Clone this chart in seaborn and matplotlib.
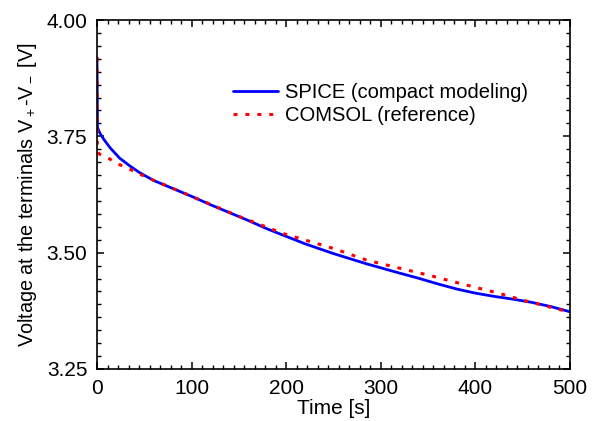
import matplotlib
matplotlib.use('Agg')
import matplotlib.pyplot as plt
from matplotlib.ticker import AutoMinorLocator, FormatStrFormatter, MultipleLocator
import seaborn as sns

# SPICE (compact modeling) curve
spice_time = [0, 0.5, 3, 7, 14, 24, 35, 45, 60, 80, 100, 120, 140, 160, 180,
              200, 220, 250, 285, 320, 340, 360, 380, 400, 420, 440, 460,
              480, 500]
spice_volt = [3.919, 3.769, 3.757, 3.744, 3.725, 3.703, 3.686, 3.672, 3.655,
              3.638, 3.621, 3.603, 3.586, 3.569, 3.551, 3.535, 3.519, 3.498,
              3.476, 3.456, 3.445, 3.433, 3.422, 3.413, 3.406, 3.400, 3.393,
              3.384, 3.373]

# COMSOL (reference) curve
comsol_time = [0, 0.3, 2.4, 12, 23, 35, 45, 57, 100, 150, 197, 250, 285,
               317, 352, 376, 401, 426, 450, 475, 500]
comsol_volt = [3.920, 3.720, 3.712, 3.703, 3.690, 3.679, 3.669, 3.658, 3.621,
               3.578, 3.541, 3.509, 3.484, 3.468, 3.451, 3.438, 3.425, 3.412,
               3.398, 3.385, 3.372]

labels = ['SPICE (compact modeling)', 'COMSOL (reference)']

TICK_SIZE = 15
XLABEL_SIZE = 15
YLABEL_SIZE = 14.3
LEGEND_SIZE = 14.5

sns.set_theme(style='white')
plt.rcParams['font.family'] = ['Liberation Sans', 'DejaVu Sans']
plt.rcParams['mathtext.fontset'] = 'custom'
plt.rcParams['mathtext.rm'] = 'Liberation Sans'
plt.rcParams['mathtext.it'] = 'Liberation Sans'
plt.rcParams['axes.edgecolor'] = 'black'
plt.rcParams['axes.linewidth'] = 1.2
plt.rcParams['text.color'] = 'black'
plt.rcParams['axes.labelcolor'] = 'black'

fig = plt.figure(figsize=(5.95, 4.21), dpi=100)
ax = fig.add_axes([97 / 595, 1 - 369 / 421, (570 - 97) / 595, (369 - 20) / 421])

sns.lineplot(x=spice_time, y=spice_volt, ax=ax, color='#0000ff', linewidth=2,
             estimator=None, sort=False, label=labels[0])
sns.lineplot(x=comsol_time, y=comsol_volt, ax=ax, color='#ff0000', linewidth=2.2,
             estimator=None, sort=False, label=labels[1])
ax.lines[1].set_linestyle((0, (1.3, 2.6)))

ax.set_xlim(0, 500)
ax.set_ylim(3.25, 4.00)
ax.xaxis.set_major_locator(MultipleLocator(100))
ax.yaxis.set_major_locator(MultipleLocator(0.25))
ax.xaxis.set_minor_locator(AutoMinorLocator(9))
ax.yaxis.set_minor_locator(AutoMinorLocator(9))
ax.yaxis.set_major_formatter(FormatStrFormatter('%.2f'))

ax.tick_params(which='both', direction='in', top=True, right=True,
               bottom=True, left=True, color='black', labelsize=TICK_SIZE,
               labelcolor='black')
ax.tick_params(which='major', length=5, width=1.1, pad=7)
ax.tick_params(which='minor', length=3, width=1.0)

ax.set_xlabel('Time [s]', fontsize=XLABEL_SIZE, labelpad=1)
ax.set_ylabel(r'Voltage at the terminals V$_+$-V$_-$ [V]', fontsize=YLABEL_SIZE,
              labelpad=5)

ax.legend(loc='upper left', bbox_to_anchor=(0.2875, 0.82), frameon=False,
          fontsize=LEGEND_SIZE, handlelength=2.24, handletextpad=0.35,
          labelspacing=0.2, borderpad=0, borderaxespad=0, labelcolor='black')

fig.savefig('out.png', dpi=100)
